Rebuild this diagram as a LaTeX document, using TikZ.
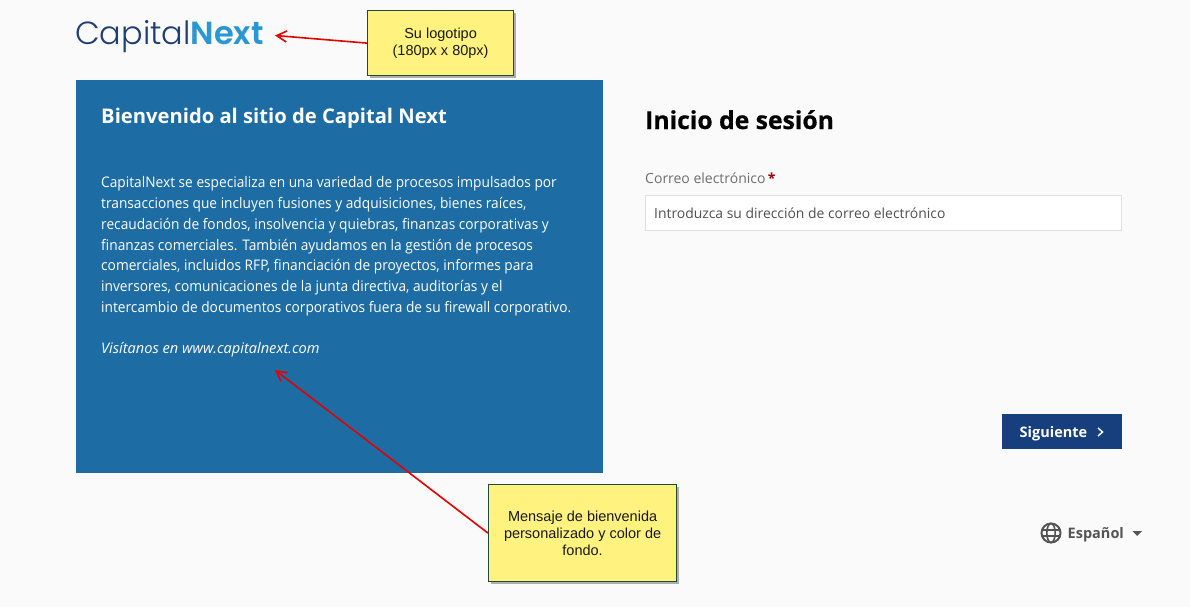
\documentclass[tikz,border=0pt]{standalone}
\usepackage{fontspec}
\setmainfont{Open Sans}
\newfontfamily\bodyfont[FakeStretch=0.94]{Open Sans}
\newfontfamily\heavyfont[FakeBold=0.5]{Open Sans Bold}
\newfontfamily\notefont{Liberation Sans}
\newfontfamily\logofont[UprightFont=* Light,BoldFont=* SemiBold]{Poppins}
\usetikzlibrary{calc,shadows,arrows.meta}
\definecolor{pagebg}{HTML}{FAFAFA}
\definecolor{panelblue}{HTML}{1D6CA4}
\definecolor{btnblue}{HTML}{173F7E}
\definecolor{notefill}{HTML}{FFF27F}
\definecolor{noteline}{HTML}{1F4A3A}
\definecolor{logodark}{HTML}{1F3F73}
\definecolor{logolight}{HTML}{2A96D2}
\definecolor{graytext}{HTML}{6E6E6E}
\definecolor{inputtext}{HTML}{505050}
\definecolor{globegray}{HTML}{555555}
\tikzset{
  note/.style={draw=noteline, line width=1.2pt, fill=notefill, inner sep=0pt, align=center,
    font=\notefont\fontsize{14.5}{17}\selectfont, text=black!90,
    drop shadow={shadow xshift=2.5pt, shadow yshift=-2.5pt, fill=black, opacity=0.3}},
  callout/.style={draw=red!90!black, line width=1.6pt, -{Straight Barb[length=10pt,width=11pt,line width=1.6pt]}},
  plain/.style={inner sep=0pt, anchor=base west},
}
\begin{document}
\begin{tikzpicture}[x=1pt,y=-1pt]
\useasboundingbox (0,0) rectangle (1190,607);
\fill[pagebg] (0,0) rectangle (1190,607);
% logo
\node[plain, text=logodark, font=\logofont\fontsize{32}{36}\selectfont] (logo) at (75,45) {Capital\textcolor{logolight}{\bfseries Next}};
% left panel
\fill[panelblue] (76,80) rectangle (603,473);
\node[plain, text=white, font=\fontsize{20.2}{24}\bfseries\selectfont] (welcome) at (101,123.5) {Bienvenido al sitio de Capital Next};
\node[inner sep=0pt, anchor=north west, align=left, text=white, font=\bodyfont\fontsize{14.6}{20.8}\selectfont] (body) at (101,176.5)
  {CapitalNext se especializa en una variedad de procesos impulsados por\\
   transacciones que incluyen fusiones y adquisiciones, bienes raíces,\\
   recaudación de fondos, insolvencia y quiebras, finanzas corporativas y\\
   finanzas comerciales. También ayudamos en la gestión de procesos\\
   comerciales, incluidos RFP, financiación de proyectos, informes para\\
   inversores, comunicaciones de la junta directiva, auditorías y el\\
   intercambio de documentos corporativos fuera de su firewall corporativo.};
\node[plain, text=white, font=\fontsize{14.6}{20}\itshape\selectfont] (visit) at (101,353) {Visítanos en www.capitalnext.com};
% login form
\node[plain, text=black, font=\heavyfont\fontsize{24.7}{28}\selectfont] (login) at (645,129) {Inicio de sesión};
\node[plain, text=graytext, font=\fontsize{14}{18}\selectfont] (maillabel) at (645,183) {Correo electrónico\,\textcolor{red!60!black}{\textbf{*}}};
\node[draw=black!12, line width=0.8pt, fill=white, minimum width=476pt, minimum height=35pt, inner sep=0pt, anchor=north west] (mailbox) at (645,195) {};
\node[plain, text=inputtext, font=\fontsize{13.9}{18}\selectfont] (mailhint) at (654,218) {Introduzca su dirección de correo electrónico};
\node[fill=btnblue, minimum width=120pt, minimum height=35pt, inner sep=0pt, anchor=north west] (nextbtn) at (1002,414) {};
\node[plain, text=white, font=\fontsize{14.5}{18}\bfseries\selectfont] (nexttext) at (1019.5,437) {Siguiente};
\draw[white, line width=1.5pt] (1098,428) -- (1102.5,432) -- (1098,436);
% language
\coordinate (globe) at (1051,533);
\draw[globegray, line width=2pt] (globe) circle (9.5pt);
\draw[globegray, line width=1.6pt] (globe) ellipse (4.2pt and 9.5pt);
\draw[globegray, line width=1.6pt] ($(globe)+(-9,-3.2)$) -- ($(globe)+(9,-3.2)$) ($(globe)+(-9,3.2)$) -- ($(globe)+(9,3.2)$);
\node[plain, text=globegray, font=\fontsize{14.5}{18}\bfseries\selectfont] (lang) at (1067.5,538) {Español};
\fill[globegray] (1132.5,531) -- (1142,531) -- (1137.2,536) -- cycle;
% notes
\node[note, minimum width=146pt, minimum height=65pt, anchor=north west] (logonote) at (367,10) {Su logotipo\\(180px x 80px)};
\node[note, minimum width=188pt, minimum height=97pt, anchor=north west] (welcomenote) at (488,484) {Mensaje de bienvenida\\personalizado y color de\\fondo.};
\coordinate (logotip) at (275,35.5);
\coordinate (welcometip) at (275,370);
\draw[callout] (logonote.west) -- (logotip);
\draw[callout] (welcomenote.west) -- (welcometip);
\end{tikzpicture}
\end{document}
